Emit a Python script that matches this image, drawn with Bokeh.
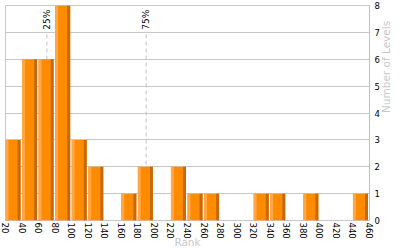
import math
from bokeh.plotting import figure
from bokeh.models import FixedTicker, ColumnDataSource
from bokeh.core.properties import value
from bokeh.embed import file_html
from bokeh.resources import INLINE

# data
bin_left = [20, 40, 60, 80, 100, 120, 140, 160, 180, 200, 220, 240, 260, 280, 300, 320, 340, 360, 380, 400, 420, 440]
counts   = [3, 6, 6, 8, 3, 2, 0, 1, 2, 0, 2, 1, 1, 0, 0, 1, 1, 0, 1, 0, 0, 1]
bin_width = 20
x_ticks = list(range(20, 461, 20))
y_ticks = [0, 1, 2, 3, 4, 5, 6, 7, 8]
pct_values = [70, 190]
pct_labels = ["25%", "75%"]
x_title = "Rank"
y_title = "Number of Levels"

FONT = "DejaVu Sans"

p = figure(width=400, height=250, output_backend="svg", toolbar_location=None,
           x_range=(20, 460), y_range=(0, 8), y_axis_location="right",
           min_border_left=5, min_border_top=5, min_border_right=30, min_border_bottom=30)
p.background_fill_color = "white"
p.border_fill_color = "white"
p.outline_line_color = "#c8c8c8"

# percentile markers (behind bars)
p.segment(x0=pct_values, y0=[0] * len(pct_values), x1=pct_values, y1=[6.95] * len(pct_values),
          line_color="#c0c0c0", line_dash="4 3", line_width=1)
p.text(x=pct_values, y=[7.1] * len(pct_values), text=pct_labels, angle=math.pi / 2,
       text_align="left", text_baseline="middle", text_font=value(FONT),
       text_font_size="9px", text_color="#000000")

gap = 1.8
strip = 3.6
lefts = [l for l, c in zip(bin_left, counts) if c > 0]
tops = [c for c in counts if c > 0]
rights = [l + bin_width - gap for l in lefts]
src = ColumnDataSource(dict(
    left=lefts, right=rights, top=tops, bottom=[0] * len(tops),
    l_strip_r=[l + strip for l in lefts],
    r_strip_l=[r - strip for r in rights],
))
p.quad(left="left", right="right", top="top", bottom="bottom", source=src,
       fill_color="#FF8C00", line_color=None)
p.quad(left="left", right="l_strip_r", top="top", bottom="bottom", source=src,
       fill_color="#FFA646", line_color=None)
p.quad(left="r_strip_l", right="right", top="top", bottom="bottom", source=src,
       fill_color="#C46A0C", line_color=None)

# grid
p.xgrid.visible = False
p.ygrid.ticker = FixedTicker(ticks=y_ticks)
p.ygrid.grid_line_color = "#c8c8c8"
p.ygrid.level = "underlay"

# x axis
xa = p.xaxis[0]
xa.ticker = FixedTicker(ticks=x_ticks)
xa.major_label_orientation = "vertical"
xa.major_label_text_font = FONT
xa.major_label_text_font_size = "8.5px"
xa.major_label_text_color = "#000000"
xa.major_label_standoff = 2
xa.axis_line_color = None
xa.major_tick_line_color = None
xa.minor_tick_line_color = None
xa.major_tick_out = 0
xa.major_tick_in = 0
xa.minor_tick_out = 0
xa.minor_tick_in = 0
xa.axis_label = x_title
xa.axis_label_text_font = FONT
xa.axis_label_text_font_style = "normal"
xa.axis_label_text_font_size = "10.5px"
xa.axis_label_text_color = "#c8c8c8"
xa.axis_label_standoff = -6

# y axis (right)
ya = p.yaxis[0]
ya.ticker = FixedTicker(ticks=y_ticks)
ya.major_label_text_font = FONT
ya.major_label_text_font_size = "8.5px"
ya.major_label_text_color = "#000000"
ya.major_label_standoff = 5
ya.axis_line_color = "#c0c0c0"
ya.major_tick_line_color = None
ya.minor_tick_line_color = None
ya.major_tick_out = 0
ya.major_tick_in = 0
ya.minor_tick_out = 0
ya.minor_tick_in = 0
ya.axis_label = y_title
ya.axis_label_text_font = FONT
ya.axis_label_text_font_style = "normal"
ya.axis_label_text_font_size = "10.5px"
ya.axis_label_text_color = "#c8c8c8"
ya.axis_label_standoff = 3
try:
    ya.axis_label_orientation = math.pi / 2
except Exception:
    pass

open("out.html", "w").write(file_html(p, INLINE))
